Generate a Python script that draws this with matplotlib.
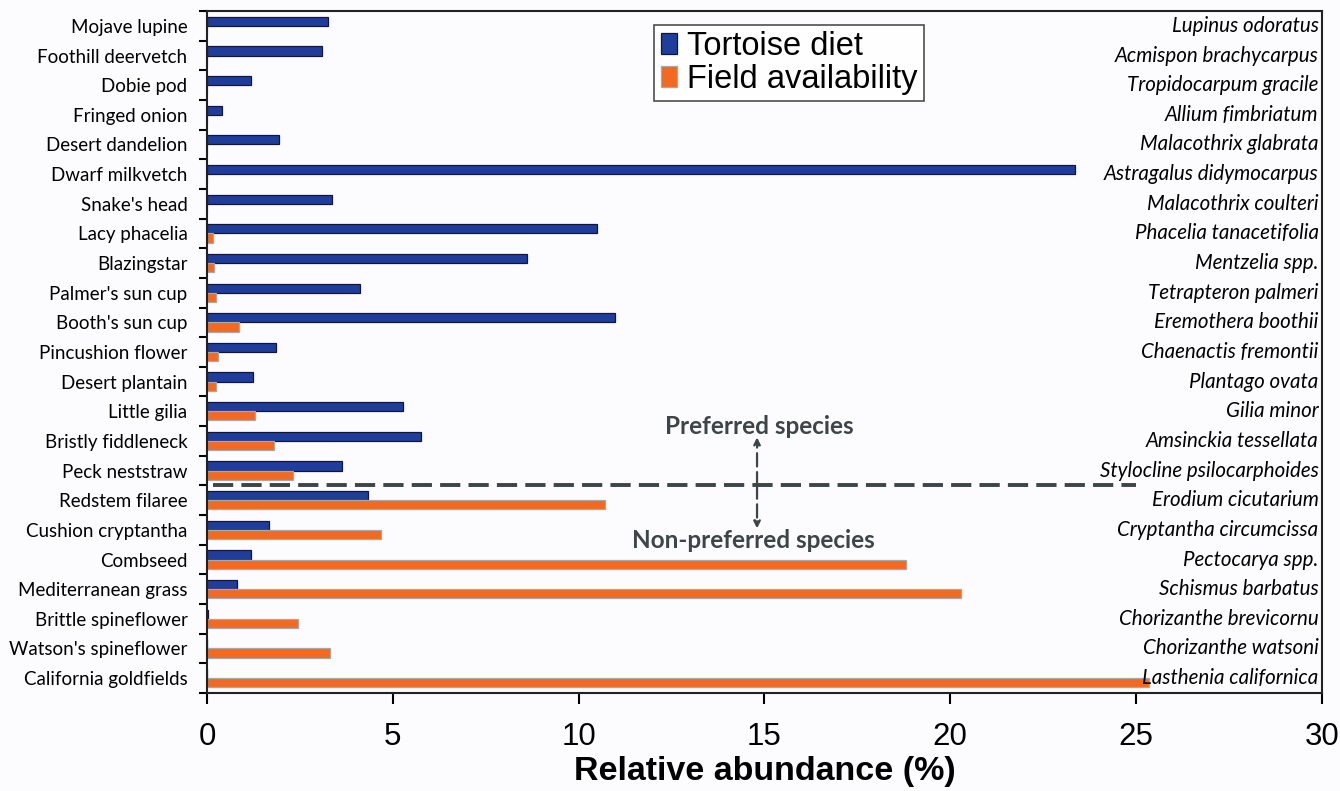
import numpy as np
import matplotlib
matplotlib.use('Agg')
from matplotlib import pyplot as plt
from matplotlib.transforms import blended_transform_factory

# datos
common = ['Mojave lupine', 'Foothill deervetch', 'Dobie pod', 'Fringed onion',
          'Desert dandelion', 'Dwarf milkvetch', "Snake's head", 'Lacy phacelia',
          'Blazingstar', "Palmer's sun cup", "Booth's sun cup", 'Pincushion flower',
          'Desert plantain', 'Little gilia', 'Bristly fiddleneck', 'Peck neststraw',
          'Redstem filaree', 'Cushion cryptantha', 'Combseed', 'Mediterranean grass',
          'Brittle spineflower', "Watson's spineflower", 'California goldfields']
latin = ['Lupinus odoratus', 'Acmispon brachycarpus', 'Tropidocarpum gracile',
         'Allium fimbriatum', 'Malacothrix glabrata', 'Astragalus didymocarpus',
         'Malacothrix coulteri', 'Phacelia tanacetifolia', 'Mentzelia spp.',
         'Tetrapteron palmeri', 'Eremothera boothii', 'Chaenactis fremontii',
         'Plantago ovata', 'Gilia minor', 'Amsinckia tessellata',
         'Stylocline psilocarphoides', 'Erodium cicutarium', 'Cryptantha circumcissa',
         'Pectocarya spp.', 'Schismus barbatus', 'Chorizanthe brevicornu',
         'Chorizanthe watsoni', 'Lasthenia californica']
diet = [3.26, 3.1, 1.18, 0.4, 1.94, 23.35, 3.36, 10.5, 8.6, 4.12, 10.97, 1.86,
        1.23, 5.27, 5.75, 3.64, 4.34, 1.67, 1.18, 0.8, 0.03, 0.0, 0.0]
field = [0, 0, 0, 0, 0, 0, 0, 0.15, 0.19, 0.23, 0.85, 0.3, 0.23, 1.28, 1.8, 2.3,
         10.7, 4.67, 18.8, 20.3, 2.46, 3.3, 25.35]
xticks = [0, 5, 10, 15, 20, 25, 30]
n_preferred = 16

blue = '#1f3e9c'
orange = '#f26a22'
gris = '#3d4548'
cal = ['Lato', 'DejaVu Sans']
ari = ['Liberation Sans', 'DejaVu Sans']

fig = plt.figure(figsize=(13.4, 7.91), dpi=100)
fig.patch.set_facecolor('#fcfcfe')
ax = fig.add_axes([0.1545, 0.124, 0.832, 0.862])
ax.set_facecolor('#fcfcfe')

y = np.arange(len(common))
h = 0.31
ax.barh(y - h / 2, diet, height=h, color=blue, edgecolor='#15153a', linewidth=0.9,
        label='Tortoise diet')
ax.barh(y + h / 2, field, height=h, color=orange, edgecolor='#a8a8a8', linewidth=0.9,
        label='Field availability')

ax.set_ylim(len(common) - 0.5, -0.5)
ax.set_xlim(0, 30)

# ticks del eje y en los bordes de categoria
ax.set_yticks(np.arange(len(common) + 1) - 0.5)
ax.set_yticklabels([])
ax.set_yticks(y, minor=True)
ax.set_yticklabels(common, minor=True, fontsize=13.5, family=cal)
ax.tick_params(axis='y', which='minor', length=0, pad=14)
ax.tick_params(axis='y', which='major', length=6, width=1.5, direction='out')

ax.set_xticks(xticks)
ax.set_xticklabels([str(t) for t in xticks], fontsize=22.5, family=ari)
ax.tick_params(axis='x', length=8, width=1.5, direction='out', pad=13)
ax.set_xlabel('Relative abundance (%)', fontsize=24.5, fontweight='bold', family=ari,
              labelpad=3)

for s in ax.spines.values():
    s.set_linewidth(1.5)
    s.set_color('#222222')

# nombres cientificos a la derecha
tr = blended_transform_factory(ax.transAxes, ax.transData)
for i, name in enumerate(latin):
    ax.text(0.997, i, name, transform=tr, ha='right', va='center', fontsize=14.8,
            style='italic', family=cal)

# linea de separacion
sep = n_preferred - 0.5
ax.plot([0.15, 25], [sep, sep], color=gris, linewidth=2.8, dashes=(5.2, 2.1))
for d in (-1.62, 1.45):
    ax.annotate('', xy=(14.8, sep + d), xytext=(14.8, sep),
                arrowprops=dict(arrowstyle='-|>', color=gris, lw=1.6,
                                linestyle=(0, (6, 2.5)), mutation_scale=10,
                                shrinkA=0, shrinkB=0))
ax.text(14.85, sep - 2.0, 'Preferred species', ha='center', va='center', fontsize=17.5,
        fontweight='bold', color=gris, family=cal)
ax.text(14.7, sep + 1.85, 'Non-preferred species', ha='center', va='center', fontsize=17.5,
        fontweight='bold', color=gris, family=cal)

leg = ax.legend(loc='upper left', bbox_to_anchor=(0.401, 0.98),
                prop={'family': ari, 'size': 23.5}, frameon=True, fancybox=False,
                handlelength=0.5, handleheight=0.6, handletextpad=0.3,
                borderpad=0.2, labelspacing=0.05, borderaxespad=0)
leg.get_frame().set_edgecolor('#222222')
leg.get_frame().set_linewidth(1.2)
leg.get_frame().set_facecolor('white')

plt.savefig('out.png', dpi=100, facecolor=fig.get_facecolor())
